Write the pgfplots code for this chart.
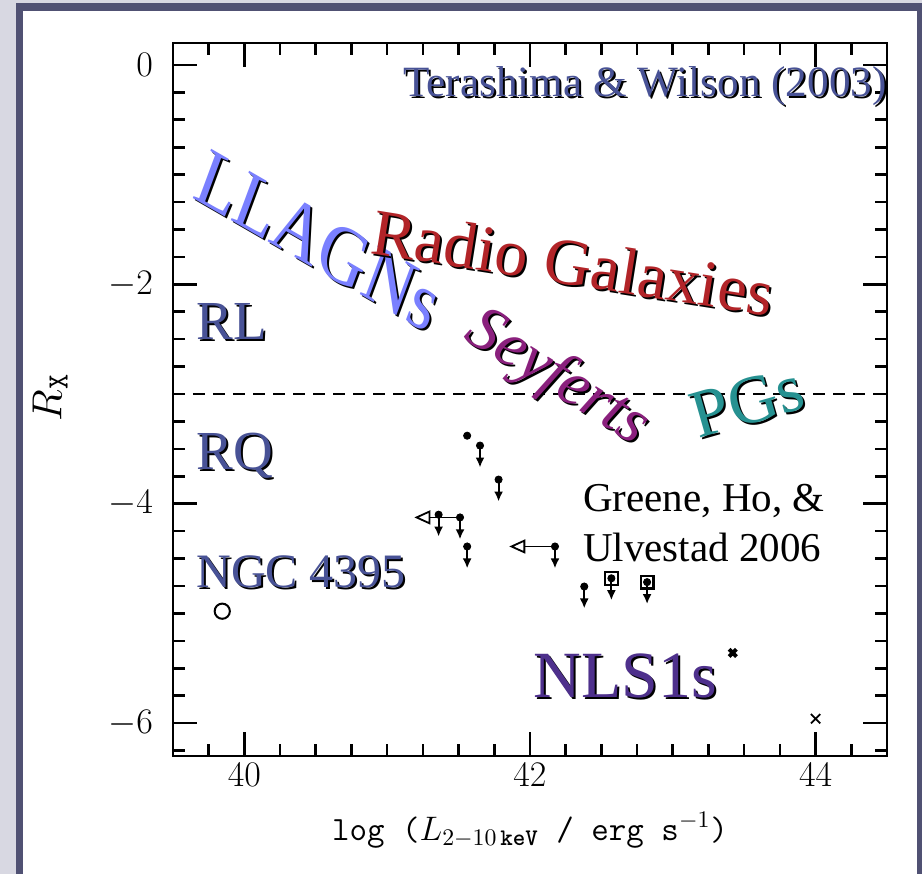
\RequirePackage{fix-cm}
\documentclass[border=0pt]{standalone}
\usepackage{amsmath}
\usepackage{fontspec}
\setmainfont{Liberation Serif}
\usepackage{pgfplots}
\pgfplotsset{compat=1.18}
\usetikzlibrary{arrows.meta}

\definecolor{outerbg}{RGB}{216,216,226}
\definecolor{framecol}{RGB}{80,81,115}
\definecolor{slate}{RGB}{72,82,150}
\definecolor{llagn}{RGB}{122,128,255}
\definecolor{radiogal}{RGB}{178,36,40}
\definecolor{seyf}{RGB}{138,32,125}
\definecolor{pgcol}{RGB}{38,145,145}
\definecolor{nlscol}{RGB}{78,48,140}

\newcommand\fs[1]{\fontsize{#1}{#1}\selectfont}
% text with a black drop shadow: #1 position, #2 node options, #3 colour, #4 text
\newcommand\shadowed[4]{%
  \node[xshift=1pt,yshift=-1pt,#2,text=black] at (#1) {#4};
  \node[#2,text=#3] at (#1) {#4};
}

\begin{document}
\begin{tikzpicture}
\fill[outerbg] (0,0) rectangle (461pt,437pt);
\fill[framecol] (8pt,0) rectangle (461pt,435.5pt);
\fill[white] (11.5pt,0) rectangle (458.5pt,431.5pt);
\useasboundingbox (0,0) rectangle (461pt,437pt);
\begin{axis}[
  at={(86.5pt,59pt)}, anchor=south west,
  scale only axis, width=357pt, height=356.5pt,
  xmin=39.5, xmax=44.5, ymin=-6.3, ymax=0.2,
  clip=false,
  axis line style={line width=1.3pt},
  tick align=inside,
  xtick={40,42,44}, ytick={0,-2,-4,-6},
  minor xtick={39.75,40.25,40.5,40.75,41,41.25,41.5,41.75,42.25,42.5,42.75,43,43.25,43.5,43.75,44.25},
  minor ytick={-0.25,-0.5,-0.75,-1,-1.25,-1.5,-1.75,-2.25,-2.5,-2.75,-3,-3.25,-3.5,-3.75,-4.25,-4.5,-4.75,-5,-5.25,-5.5,-5.75,-6.25},
  major tick length=12pt, minor tick length=6pt,
  tick style={black, line width=1.3pt},
  tick label style={font=\fs{18}},
  yticklabel style={xshift=-6.5pt},
  xlabel={\texttt{log (}$L_{2-10\,\text{\ttfamily\bfseries keV}}$\texttt{ / erg s}$^{-1}$\texttt{)}},
  xlabel style={font=\fs{17}, at={(axis description cs:0.5,-0.104)}, anchor=center},
  ylabel={$R_{\text{\ttfamily X}}$},
  ylabel style={font=\fs{21}, at={(axis description cs:-0.172,0.503)}, anchor=center},
]
% RL / RQ boundary
\addplot[black, line width=1pt, dash pattern=on 6pt off 4pt] coordinates {(39.5,-3) (44.5,-3)};

% Greene, Ho & Ulvestad sources
\addplot[only marks, mark=*, mark size=1.8pt, black] coordinates {
 (41.56,-3.38) (41.65,-3.47) (41.78,-3.78) (41.36,-4.10) (41.51,-4.125)
 (41.56,-4.39) (42.175,-4.39) (42.38,-4.755) (42.57,-4.68) (42.82,-4.715)};
% upper limits on R_X
\addplot[black, line width=1pt, -{Latex[length=5pt,width=4.5pt]}, quiver={u=0,v=-0.2}] coordinates {
 (41.65,-3.47) (41.78,-3.78) (41.36,-4.10) (41.51,-4.125) (41.56,-4.39)
 (42.175,-4.39) (42.38,-4.755) (42.57,-4.68) (42.82,-4.715)};
% upper limits on luminosity
\addplot[black, line width=0.9pt, -{Triangle[open,length=8pt,width=7pt]}, quiver={u=-0.32,v=0}] coordinates {
 (41.51,-4.125) (42.175,-4.39)};
% boxed sources
\addplot[only marks, mark=square, mark size=3.2pt, line width=1.1pt, black] coordinates {(42.57,-4.68) (42.82,-4.715)};
% NGC 4395
\addplot[only marks, mark=o, mark size=3.8pt, line width=1pt, black] coordinates {(39.845,-4.98)};
% NLS1s
\addplot[only marks, mark=x, mark size=2.6pt, line width=2pt, black] coordinates {(43.42,-5.36)};
\addplot[only marks, mark=x, mark size=3.3pt, line width=0.9pt, black] coordinates {(44.0,-5.96)};

\shadowed{axis cs:44.5,-0.29}{anchor=base east, inner sep=0pt, font=\fs{21.6}}{slate}{Terashima \& Wilson (2003)}
\shadowed{axis cs:40.52,-1.60}{rotate=-30, xslant=-0.17, yscale=1.1, inner sep=0pt, font=\fs{36}}{llagn}{LLAGNs}
\shadowed{axis cs:42.30,-1.80}{rotate=-9, inner sep=0pt, font=\fs{33}}{radiogal}{Radio Galaxies}
\shadowed{axis cs:42.19,-2.86}{rotate=-32, inner sep=0pt, font=\fs{32}\itshape}{seyf}{Seyferts}
\shadowed{axis cs:43.52,-3.07}{rotate=16, inner sep=0pt, font=\fs{34}}{pgcol}{PGs}
\shadowed{axis cs:39.661,-2.50}{anchor=base west, inner sep=0pt, font=\fs{27.5}}{slate}{RL}
\shadowed{axis cs:39.661,-3.69}{anchor=base west, inner sep=0pt, font=\fs{27.5}}{slate}{RQ}
\shadowed{axis cs:39.661,-4.76}{anchor=base west, inner sep=0pt, font=\fs{24}}{slate}{NGC 4395}
\shadowed{axis cs:42.025,-5.77}{anchor=base west, inner sep=0pt, font=\fs{33}}{nlscol}{NLS1s}
\node[anchor=base west, inner sep=0pt, font=\fs{20.5}] at (axis cs:42.37,-4.073) {Greene, Ho, \&};
\node[anchor=base west, inner sep=0pt, font=\fs{20.5}] at (axis cs:42.37,-4.53) {Ulvestad 2006};
\end{axis}
\end{tikzpicture}
\end{document}
